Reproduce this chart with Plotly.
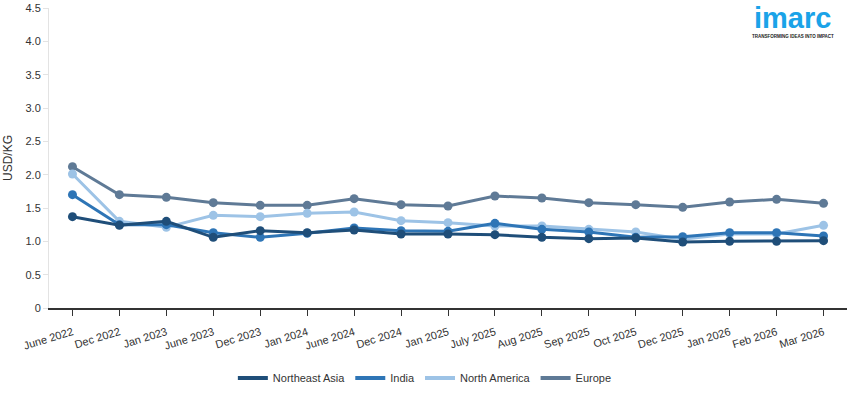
import plotly.graph_objects as go

categories = ["June 2022", "Dec 2022", "Jan 2023", "June 2023", "Dec 2023", "Jan 2024",
              "June 2024", "Dec 2024", "Jan 2025", "July 2025", "Aug 2025", "Sep 2025",
              "Oct 2025", "Dec 2025", "Jan 2026", "Feb 2026", "Mar 2026"]

northeast_asia = [1.37, 1.24, 1.30, 1.06, 1.16, 1.13, 1.17, 1.11, 1.11, 1.10, 1.06, 1.04, 1.05, 0.99, 1.00, 1.00, 1.01]
india = [1.70, 1.25, 1.25, 1.13, 1.06, 1.12, 1.20, 1.16, 1.15, 1.27, 1.18, 1.14, 1.06, 1.07, 1.13, 1.13, 1.08]
north_america = [2.01, 1.30, 1.21, 1.39, 1.37, 1.42, 1.44, 1.31, 1.28, 1.23, 1.23, 1.18, 1.14, 1.03, 1.11, 1.11, 1.24]
europe = [2.12, 1.70, 1.66, 1.58, 1.54, 1.54, 1.64, 1.55, 1.53, 1.68, 1.65, 1.58, 1.55, 1.51, 1.59, 1.63, 1.57]

y_tickvals = [0, 0.5, 1.0, 1.5, 2.0, 2.5, 3.0, 3.5, 4.0, 4.5]
y_ticktext = ["0", "0.5", "1.0", "1.5", "2.0", "2.5", "3.0", "3.5", "4.0", "4.5"]

series = [
    ("Northeast Asia", northeast_asia, "#1f4e79"),
    ("India", india, "#2e75b6"),
    ("North America", north_america, "#9dc3e6"),
    ("Europe", europe, "#5f7a96"),
]

fig = go.Figure()
# draw in reverse so Northeast Asia is on top
for name, vals, color in reversed(series):
    fig.add_trace(go.Scatter(x=categories, y=vals, mode="lines+markers", name=name,
                             line=dict(color=color, width=3),
                             marker=dict(color=color, size=9),
                             showlegend=False))
for name, vals, color in series:
    fig.add_trace(go.Scatter(x=[None], y=[None], mode="lines", name=name,
                             line=dict(color=color, width=4), showlegend=True))

fig.update_layout(
    width=855, height=393,
    margin=dict(l=49, r=8, t=8, b=85, autoexpand=False),
    paper_bgcolor="white", plot_bgcolor="white",
    font=dict(family="Liberation Sans, Arial, sans-serif", size=11, color="#333333"),
    showlegend=True,
    legend=dict(orientation="h", x=0.471, xanchor="center",
                yref="container", y=0.038, yanchor="middle",
                font=dict(size=11, color="#333333"), itemwidth=30, tracegroupgap=0),
    xaxis=dict(type="category", range=[-0.5, 16.5], showgrid=False, zeroline=False,
               showline=True, linecolor="#333333", linewidth=1.5, automargin=False,
               ticks="outside", ticklen=6, tickcolor="#333333", tickwidth=1,
               ticklabelstandoff=6,
               tickangle=-17, tickfont=dict(size=11, color="#333333")),
    yaxis=dict(range=[0, 4.5], tickvals=y_tickvals, ticktext=y_ticktext, automargin=False,
               showgrid=False, zeroline=False, showline=True, linecolor="#e3e3e3", linewidth=1,
               ticks="outside", ticklen=5, tickcolor="#e3e3e3",
               tickfont=dict(size=11, color="#333333"),
               title=dict(text="USD/KG", font=dict(size=12, color="#333333"), standoff=10)),
)

fig.add_annotation(xref="paper", yref="paper", x=0.932, y=0.968, xanchor="center", yanchor="middle",
                   text="<b>imarc</b>", showarrow=False,
                   font=dict(family="Liberation Sans, Arial, sans-serif", size=29, color="#1aa3e8"))
fig.add_annotation(xref="paper", yref="paper", x=0.932, y=0.905, xanchor="center", yanchor="middle",
                   text="<b>TRANSFORMING IDEAS INTO IMPACT</b>", showarrow=False,
                   font=dict(family="Liberation Sans, Arial, sans-serif", size=4.5, color="#222222"))

fig.write_html("out.html")
